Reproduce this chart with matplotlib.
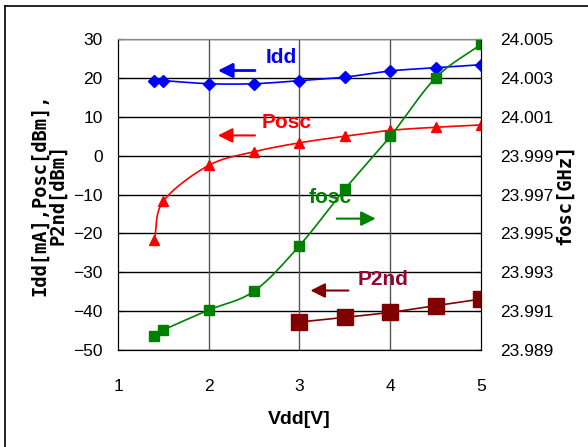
"""Oscillator characteristics versus supply voltage (Idd, Posc, P2nd, fosc)."""

import matplotlib
matplotlib.use("Agg")
import matplotlib.pyplot as plt
import numpy as np

vdd = [1.4, 1.5, 2.0, 2.5, 3.0, 3.5, 4.0, 4.5, 5.0]
idd_ma = [19.3, 19.3, 18.5, 18.5, 19.3, 20.2, 21.8, 22.6, 23.4]
posc_dbm = [-21.6, -11.7, -2.5, 1.0, 3.3, 5.0, 6.5, 7.3, 7.9]
fosc_ghz = [23.98974, 23.99003, 23.99106, 23.99203, 23.99437,
            23.99728, 23.99999, 24.0030, 24.00473]
vdd_p2nd = [3.0, 3.5, 4.0, 4.5, 5.0]
p2nd_dbm = [-42.8, -41.6, -40.3, -38.6, -36.9]

left_ticks = list(range(-50, 31, 10))
right_ticks = [23.989, 23.991, 23.993, 23.995, 23.997, 23.999, 24.001, 24.003, 24.005]
x_ticks = [1, 2, 3, 4, 5]


def smooth(x, y, n=20):
    # Excel-like smoothed line (Catmull-Rom through the points)
    x = np.asarray(x, float)
    y = np.asarray(y, float)
    px = np.concatenate([[2 * x[0] - x[1]], x, [2 * x[-1] - x[-2]]])
    py = np.concatenate([[2 * y[0] - y[1]], y, [2 * y[-1] - y[-2]]])
    xs, ys = [], []
    t = np.linspace(0, 1, n)
    for i in range(1, len(px) - 2):
        for arr, out in ((px, xs), (py, ys)):
            p0, p1, p2, p3 = arr[i - 1], arr[i], arr[i + 1], arr[i + 2]
            seg = 0.5 * ((2 * p1) + (-p0 + p2) * t
                         + (2 * p0 - 5 * p1 + 4 * p2 - p3) * t ** 2
                         + (-p0 + 3 * p1 - 3 * p2 + p3) * t ** 3)
            out.extend(seg)
    return np.array(xs), np.array(ys)


mono = ["DejaVu Sans Mono", "Liberation Mono"]
plt.rcParams["font.family"] = ["Liberation Sans", "DejaVu Sans"]

fig = plt.figure(figsize=(5.88, 4.47), dpi=100)
ax = fig.add_axes([0.2007, 0.217, 0.6173, 0.6957])
ax2 = ax.twinx()

ax.set_xlim(1, 5)
ax.set_ylim(-50, 30)
ax2.set_ylim(23.989, 24.005)

for v in left_ticks:
    ax.axhline(v, color="black", lw=1, zorder=0)
for v in x_ticks[1:-1]:
    ax.axvline(v, color="#555555", lw=1, zorder=0)

blue, red, green, maroon = "#0000FF", "#FF0000", "#008000", "#800000"

sx, sy = smooth(vdd, idd_ma)
ax.plot(sx, sy, color=blue, lw=1.2)
ax.plot(vdd, idd_ma, "D", color=blue, ms=6)

sx, sy = smooth(vdd, posc_dbm)
ax.plot(sx, sy, color=red, lw=1.2)
ax.plot(vdd, posc_dbm, "^", color=red, ms=7)

sx, sy = smooth(vdd_p2nd, p2nd_dbm)
ax.plot(sx, sy, color=maroon, lw=1.2, zorder=3)
ax.plot(vdd_p2nd, p2nd_dbm, "s", color=maroon, ms=11, zorder=3)

sx, sy = smooth(vdd, fosc_ghz)
ax2.plot(sx, sy, color=green, lw=1.2)
ax2.plot(vdd, fosc_ghz, "s", color=green, ms=6.5)

ax.set_xticks(x_ticks)
ax.set_yticks(left_ticks)
ax2.set_yticks(right_ticks)
ax2.set_yticklabels([f"{v:.3f}" for v in right_ticks])
ax.tick_params(axis="both", labelsize=12.5, direction="in")
ax.tick_params(axis="x", length=0, pad=21)
ax.tick_params(axis="y", length=4, pad=11)
ax2.tick_params(axis="y", labelsize=12.5, direction="in", length=4, pad=14)

for a in (ax, ax2):
    a.spines["top"].set_color("#888888")
    a.spines["left"].set_color("black")
    a.spines["right"].set_color("black")
    a.spines["bottom"].set_color("black")

ax.set_xlabel("Vdd[V]", fontsize=14, fontweight="bold", labelpad=12)
ax.set_ylabel("Idd[mA],Posc[dBm],\nP2nd[dBm]", fontsize=13.5, fontweight="bold",
              family=mono, labelpad=4, linespacing=1.0)
ax2.set_ylabel("fosc[GHz]", fontsize=13.5, fontweight="bold", family=mono,
               rotation=90, labelpad=1)

# series labels with arrows
lab = dict(fontsize=15, fontweight="bold", ha="center", va="center")
ax.text(2.80, 25.2, "Idd", color=blue, **lab)
ax.annotate("", xy=(2.07, 21.9), xytext=(2.54, 21.9),
            arrowprops=dict(arrowstyle="-|>", color=blue, lw=2, mutation_scale=22))
ax.text(2.86, 8.5, "Posc", color=red, **lab)
ax.annotate("", xy=(2.07, 5.2), xytext=(2.54, 5.2),
            arrowprops=dict(arrowstyle="-|>", color=red, lw=1.5, mutation_scale=22))
ax.text(3.34, -10.8, "fosc", color=green, **lab)
ax.annotate("", xy=(3.87, -16.2), xytext=(3.38, -16.2),
            arrowprops=dict(arrowstyle="-|>", color=green, lw=1.5, mutation_scale=22))
ax.text(3.92, -31.9, "P2nd", color="#990033", **lab)
ax.annotate("", xy=(3.09, -34.7), xytext=(3.57, -34.7),
            arrowprops=dict(arrowstyle="-|>", color=maroon, lw=1.5, mutation_scale=22))

# outer frame (only left and top edges fall inside the image)
fig.add_artist(plt.Line2D([5 / 588, 5 / 588], [0, 1 - 6 / 447], color="black", lw=1.2))
fig.add_artist(plt.Line2D([5 / 588, 1], [1 - 6 / 447, 1 - 6 / 447], color="black", lw=1.2))

fig.savefig("out.png", dpi=100)
